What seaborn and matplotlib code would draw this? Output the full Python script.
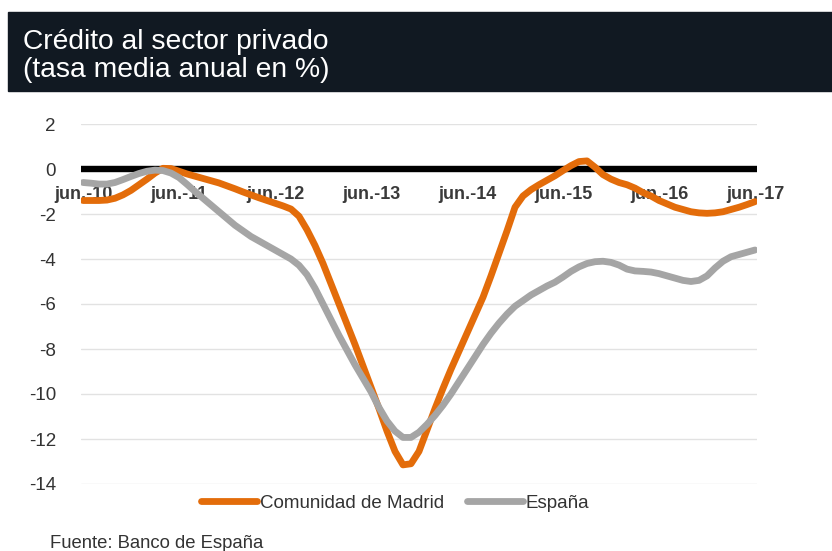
import numpy as np
import pandas as pd
import matplotlib
matplotlib.use("Agg")
import matplotlib.pyplot as plt
import matplotlib.patches as mpatches
import seaborn as sns

# ---- data (monthly, jun-2010 .. jun-2017) ----
madrid = [-1.40, -1.40, -1.40, -1.38, -1.30, -1.15, -0.95, -0.70, -0.45, -0.18,
          0.03, 0.02, -0.10, -0.22, -0.32, -0.42, -0.52, -0.62, -0.75, -0.88,
          -1.02, -1.15, -1.28, -1.40, -1.52, -1.64, -1.78, -2.10, -2.70, -3.40,
          -4.20, -5.10, -6.00, -6.90, -7.80, -8.75, -9.70, -10.65, -11.65, -12.55,
          -13.15, -13.10, -12.55, -11.60, -10.65, -9.75, -8.90, -8.10, -7.30, -6.50,
          -5.70, -4.75, -3.75, -2.75, -1.70, -1.20, -0.92, -0.70, -0.50, -0.30,
          -0.07, 0.15, 0.33, 0.36, 0.08, -0.25, -0.45, -0.60, -0.70, -0.85,
          -1.05, -1.20, -1.40, -1.55, -1.70, -1.80, -1.90, -1.95, -1.97, -1.95,
          -1.90, -1.80, -1.70, -1.58, -1.45]
espana = [-0.60, -0.63, -0.67, -0.67, -0.60, -0.47, -0.33, -0.20, -0.10, -0.05,
          -0.07, -0.18, -0.38, -0.68, -1.00, -1.30, -1.60, -1.90, -2.20, -2.50,
          -2.75, -3.00, -3.20, -3.40, -3.60, -3.80, -4.00, -4.28, -4.70, -5.30,
          -6.00, -6.70, -7.40, -8.05, -8.70, -9.30, -9.90, -10.60, -11.20, -11.65,
          -11.93, -11.93, -11.70, -11.35, -10.95, -10.50, -10.00, -9.45, -8.90, -8.35,
          -7.80, -7.30, -6.85, -6.45, -6.10, -5.85, -5.60, -5.40, -5.20, -5.03,
          -4.80, -4.55, -4.35, -4.20, -4.12, -4.10, -4.15, -4.27, -4.45, -4.53,
          -4.55, -4.58, -4.65, -4.75, -4.85, -4.95, -5.00, -4.95, -4.75, -4.40,
          -4.10, -3.90, -3.80, -3.70, -3.60]
series_names = ["Comunidad de Madrid", "España"]
tick_labels = ["jun.-10", "jun.-11", "jun.-12", "jun.-13", "jun.-14",
               "jun.-15", "jun.-16", "jun.-17"]
y_ticks = [2, 0, -2, -4, -6, -8, -10, -12, -14]

months = np.arange(len(madrid))
df = pd.DataFrame({
    "mes": np.concatenate([months, months]),
    "valor": madrid + espana,
    "serie": [series_names[0]] * len(madrid) + [series_names[1]] * len(espana),
})

sns.set_theme(style="white")
plt.rcParams["font.family"] = ["Liberation Sans", "DejaVu Sans"]
plt.rcParams["axes.unicode_minus"] = False

W, H = 832, 551
fig = plt.figure(figsize=(W / 100, H / 100), dpi=100)
fig.patch.set_facecolor("white")
ax = fig.add_axes([81 / W, 1 - 484 / H, (757 - 81) / W, (484 - 124) / H])

palette = {series_names[0]: "#E36C0A", series_names[1]: "#A5A5A5"}
sns.lineplot(data=df, x="mes", y="valor", hue="serie", palette=palette,
             linewidth=4.9, solid_capstyle="round", solid_joinstyle="round",
             ax=ax, zorder=2)

ax.set_xlim(-0.25, 84.25)
ax.set_ylim(-14, 2)
ax.set_yticks(y_ticks)
ax.set_yticklabels([str(v) for v in y_ticks])
ax.set_xticks(np.arange(0, 85, 12))
ax.set_xticklabels(tick_labels)
ax.set_xlabel("")
ax.set_ylabel("")

ax.set_axisbelow(True)
ax.yaxis.grid(True, color="#E2E2E2", linewidth=1.0)
ax.xaxis.grid(False)
for s in ["top", "right", "left"]:
    ax.spines[s].set_visible(False)
ax.spines["bottom"].set_position(("data", 0))
ax.spines["bottom"].set_color("black")
ax.spines["bottom"].set_linewidth(4.6)
ax.spines["bottom"].set_zorder(1.5)
ax.spines["bottom"].set_capstyle("butt")

ax.tick_params(axis="x", length=0, pad=12, labelsize=13, labelcolor="#3A3A3A")
ax.tick_params(axis="y", length=0, pad=18, labelsize=13.5, labelcolor="#333333")
for lab in ax.get_xticklabels():
    lab.set_fontweight("bold")

ax.legend(loc="center", bbox_to_anchor=(395 / W, 1 - 503 / H),
          bbox_transform=fig.transFigure, ncol=2, frameon=False,
          handlelength=3.0, handletextpad=0.15, columnspacing=1.2,
          fontsize=13.5, labelcolor="#333333")

# header band
fig.add_artist(mpatches.Rectangle((8 / W, 1 - 91 / H), (W - 8) / W, 79 / H,
                                  transform=fig.transFigure, color="#111922",
                                  zorder=0))
fig.text(23 / W, 1 - 49 / H, "Crédito al sector privado", color="white",
         fontsize=20.3, va="baseline", ha="left")
fig.text(23 / W, 1 - 77 / H, "(tasa media anual en %)", color="white",
         fontsize=20.3, va="baseline", ha="left")

fig.text(50 / W, 1 - 548 / H, "Fuente: Banco de España", color="#333333",
         fontsize=13.3, va="baseline", ha="left")

fig.savefig("out.png", dpi=100)
